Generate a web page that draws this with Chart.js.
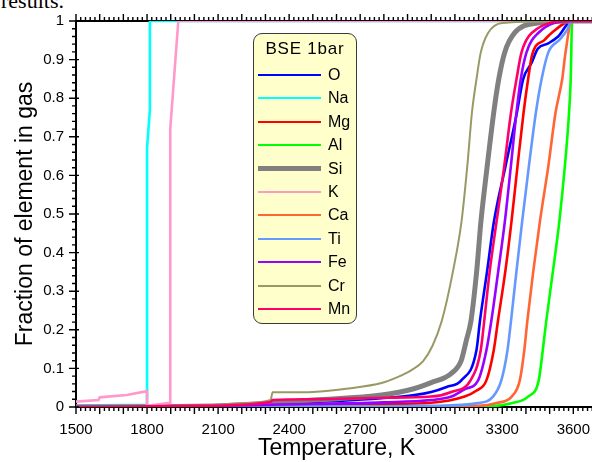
<!DOCTYPE html>
<html>
<head>
<meta charset="utf-8">
<script src="https://cdn.jsdelivr.net/npm/chart.js@4.4.1/dist/chart.umd.min.js"></script>
<style>
  html, body { margin: 0; padding: 0; background: #fff; overflow: hidden; width: 592px; height: 462px; }
  #wrap { position: relative; width: 592px; height: 462px; overflow: hidden; }
  #c { position: absolute; left: 0; top: 0; }
  #cut { position: absolute; left: 1px; top: -10px; font: 22px "Liberation Serif", "Times New Roman", serif; line-height: 22px; color: #000; }
  #legend { position: absolute; left: 253px; top: 33px; width: 102px; height: 289px; background: #ffffcc; border: 1.5px solid #3a3a3a; border-radius: 9px; font-family: "Liberation Sans", Arial, sans-serif; color: #000; }
  #legend .ttl { position: absolute; left: 0; width: 100%; top: 4px; text-align: center; font-size: 17px; letter-spacing: 0.8px; line-height: 22px; }
  #legend .row { position: absolute; left: 0; width: 100%; height: 20px; }
  #legend .sw { position: absolute; left: 4px; width: 63px; top: 50%; }
  #legend .lb { position: absolute; left: 74px; top: 0; font-size: 16px; line-height: 20px; }
</style>
</head>
<body>
<div id="wrap">
  <div id="cut">results.</div>
  <canvas id="c" width="604" height="462"></canvas>
  <div id="legend"></div>
</div>
<script>
// ---------------- data ----------------
const LEGEND_TITLE = "BSE 1bar";
const X_TITLE = "Temperature, K";
const Y_TITLE = "Fraction of element in gas";
const X_TICKS = [1500, 1800, 2100, 2400, 2700, 3000, 3300, 3600];
const Y_TICKS = [0, 0.1, 0.2, 0.3, 0.4, 0.5, 0.6, 0.7, 0.8, 0.9, 1];
const ELEMENTS = ["O", "Na", "Mg", "Al", "Si", "K", "Ca", "Ti", "Fe", "Cr", "Mn"];

const T_O  = [1500, 2000, 2330, 2790, 2930, 3000, 3065, 3127, 3191, 3206, 3236, 3265, 3313, 3362, 3388, 3424, 3450, 3494, 3536, 3593, 3700];
const F_O  = [0, 0.001, 0.008, 0.023, 0.031, 0.039, 0.052, 0.069, 0.147, 0.224, 0.352, 0.481, 0.622, 0.763, 0.849, 0.892, 0.928, 0.942, 0.960, 1, 1];

const T_Na = [1500, 1800, 1800, 1812, 1812, 3700];
const F_Na = [0.004, 0.006, 0.67, 0.77, 1, 1];

const T_Mg = [1500, 2000, 2330, 2800, 3000, 3141, 3190, 3233, 3264, 3282, 3313, 3339, 3364, 3390, 3409, 3426, 3480, 3508, 3593, 3700];
const F_Mg = [0, 0.001, 0.004, 0.008, 0.011, 0.027, 0.042, 0.069, 0.147, 0.224, 0.352, 0.481, 0.622, 0.763, 0.849, 0.912, 0.952, 0.969, 1, 1];

const T_Al = [1500, 3000, 3250, 3339, 3409, 3454, 3471, 3486, 3514, 3541, 3564, 3582, 3589, 3595, 3700];
const F_Al = [0, 0, 0.002, 0.01, 0.027, 0.069, 0.147, 0.224, 0.352, 0.481, 0.622, 0.763, 0.849, 1, 1];

const T_Si = [1500, 2000, 2330, 2500, 2790, 2930, 3000, 3085, 3127, 3148, 3168, 3192, 3210, 3236, 3264, 3285, 3310, 3352, 3450, 3593, 3700];
const F_Si = [0, 0.002, 0.01, 0.018, 0.031, 0.048, 0.063, 0.087, 0.121, 0.172, 0.224, 0.352, 0.481, 0.622, 0.763, 0.849, 0.918, 0.969, 0.995, 1, 1];

const T_K  = [1500, 1595, 1600, 1714, 1800, 1800, 1898, 1898, 1932, 3700];
const F_K  = [0.014, 0.018, 0.025, 0.031, 0.041, 0.003, 0.011, 0.72, 1, 1];

const T_Ca = [1500, 3000, 3200, 3272, 3340, 3374, 3393, 3406, 3431, 3459, 3494, 3525, 3553, 3567, 3593, 3700];
const F_Ca = [0, 0, 0.003, 0.01, 0.027, 0.069, 0.147, 0.224, 0.352, 0.481, 0.622, 0.763, 0.849, 0.918, 1, 1];

const T_Ti = [1500, 2330, 2800, 3000, 3198, 3261, 3296, 3322, 3337, 3360, 3384, 3412, 3442, 3466, 3494, 3543, 3572, 3593, 3700];
const F_Ti = [0, 0.001, 0.002, 0.003, 0.01, 0.027, 0.069, 0.147, 0.224, 0.352, 0.481, 0.622, 0.763, 0.849, 0.918, 0.952, 0.975, 1, 1];

const T_Fe = [1500, 2000, 2330, 2800, 3000, 3085, 3141, 3198, 3233, 3254, 3283, 3311, 3336, 3360, 3378, 3402, 3452, 3593, 3700];
const F_Fe = [0, 0.002, 0.006, 0.012, 0.018, 0.027, 0.046, 0.069, 0.147, 0.224, 0.352, 0.481, 0.622, 0.763, 0.849, 0.918, 0.969, 1, 1];

const T_Cr = [1500, 1800, 2000, 2100, 2200, 2322, 2330, 2400, 2500, 2650, 2790, 2860, 2915, 2965, 3005, 3045, 3092, 3128, 3152, 3172, 3191, 3209, 3240, 3300, 3600, 3700];
const F_Cr = [0, 0.002, 0.004, 0.006, 0.01, 0.018, 0.038, 0.038, 0.039, 0.048, 0.062, 0.078, 0.095, 0.118, 0.158, 0.224, 0.352, 0.481, 0.622, 0.763, 0.849, 0.918, 0.969, 0.995, 1, 1];

const T_Mn = [1500, 2000, 2322, 2330, 2500, 2800, 3000, 3085, 3166, 3209, 3224, 3247, 3276, 3308, 3337, 3360, 3381, 3424, 3593, 3700];
const F_Mn = [0, 0.003, 0.013, 0.018, 0.02, 0.024, 0.027, 0.039, 0.069, 0.147, 0.224, 0.352, 0.481, 0.622, 0.763, 0.849, 0.918, 0.969, 1, 1];

const SERIES_T = [T_O, T_Na, T_Mg, T_Al, T_Si, T_K, T_Ca, T_Ti, T_Fe, T_Cr, T_Mn];
const SERIES_F = [F_O, F_Na, F_Mg, F_Al, F_Si, F_K, F_Ca, F_Ti, F_Fe, F_Cr, F_Mn];

// ---------------- styles ----------------
const COLORS = ["#0000ff", "#00ffff", "#ff0000", "#00ff00", "#808080", "#ff99cc", "#ff6633", "#6699ff", "#9900ff", "#999966", "#ff0066"];
const WIDTHS = [2.6, 2.6, 2.6, 2.6, 5, 2.6, 2.6, 2.6, 2.6, 2, 2.6];
const STEPPED = ["Na", "K"];
const FONT = "'Liberation Sans', Arial, sans-serif";

const datasets = ELEMENTS.map((name, i) => ({
  label: name,
  data: SERIES_T[i].map((t, j) => ({ x: t, y: SERIES_F[i][j] })),
  borderColor: COLORS[i],
  backgroundColor: COLORS[i],
  borderWidth: WIDTHS[i],
  pointRadius: 0,
  fill: false,
  tension: STEPPED.includes(name) ? 0 : 0.4,
  cubicInterpolationMode: STEPPED.includes(name) ? 'default' : 'monotone',
  order: ELEMENTS.length - i
}));

const frameAndTicks = {
  id: 'frameAndTicks',
  beforeDatasetsDraw(chart) {
    const { ctx, chartArea: a } = chart;
    ctx.save();
    ctx.strokeStyle = '#000';
    ctx.lineWidth = 2;
    ctx.beginPath();
    ctx.moveTo(a.left, a.top); ctx.lineTo(a.right, a.top);
    ctx.moveTo(a.left, a.bottom); ctx.lineTo(a.right, a.bottom);
    ctx.moveTo(a.left, a.top - 1); ctx.lineTo(a.left, a.bottom + 1);
    ctx.stroke();
    ctx.restore();
  },
  afterDraw(chart) {
    const { ctx, chartArea: a, scales: { x, y } } = chart;
    ctx.save();
    ctx.strokeStyle = '#000';
    ctx.lineWidth = 1.4;
    ctx.beginPath();
    for (let v = x.min; v <= x.max + 1e-6; v += 20) {
      const px = x.getPixelForValue(v);
      const len = (Math.round(v) % 100 === 0) ? 7 : 4;
      ctx.moveTo(px, a.bottom); ctx.lineTo(px, a.bottom + len);
      ctx.moveTo(px, a.top); ctx.lineTo(px, a.top - len);
    }
    for (let k = 0; k <= 50; k++) {
      const v = k / 50;
      const py = y.getPixelForValue(v);
      const major = k % 5 === 0;
      ctx.moveTo(a.left - (major ? 7 : 4), py); ctx.lineTo(a.left + (major ? 3 : 0), py);
    }
    ctx.stroke();
    ctx.restore();
  }
};

const chart = new Chart(document.getElementById('c'), {
  type: 'line',
  data: { datasets },
  options: {
    responsive: false,
    animation: false,
    devicePixelRatio: 1,
    layout: { padding: { top: 18, right: 0, left: 0, bottom: 0 } },
    plugins: { legend: { display: false }, tooltip: { enabled: false } },
    scales: {
      x: {
        type: 'linear', min: 1500, max: 3700,
        afterBuildTicks: s => { s.ticks = X_TICKS.map(v => ({ value: v })); },
        afterFit: s => { s.height = 55; },
        grid: { display: false, drawTicks: false },
        border: { display: false },
        ticks: { color: '#000', font: { family: FONT, size: 15 }, padding: 14, maxRotation: 0, autoSkip: false, callback: v => String(v) },
        title: { display: true, text: X_TITLE, color: '#000', font: { family: FONT, size: 23 }, padding: { top: 0, bottom: 0 } }
      },
      y: {
        type: 'linear', min: 0, max: 1,
        afterBuildTicks: s => { s.ticks = Y_TICKS.map(v => ({ value: v })); },
        afterFit: s => { s.width = 76; },
        grid: { display: false, drawTicks: false },
        border: { display: false },
        ticks: { color: '#000', font: { family: FONT, size: 15 }, padding: 12, autoSkip: false, callback: v => String(Math.round(v * 10) / 10) },
        title: { display: true, text: Y_TITLE, color: '#000', font: { family: FONT, size: 23 }, padding: { top: 12, bottom: 0 } }
      }
    }
  },
  plugins: [frameAndTicks]
});

// ---------------- HTML legend built from the chart's datasets ----------------
const lg = document.getElementById('legend');
const ttl = document.createElement('div');
ttl.className = 'ttl'; ttl.textContent = LEGEND_TITLE;
lg.appendChild(ttl);
chart.data.datasets.forEach((ds, i) => {
  const row = document.createElement('div');
  row.className = 'row';
  row.style.top = (31 + i * 23.4) + 'px';
  const sw = document.createElement('div');
  sw.className = 'sw';
  sw.style.borderTop = ds.borderWidth + 'px solid ' + ds.borderColor;
  sw.style.marginTop = (-ds.borderWidth / 2) + 'px';
  const lb = document.createElement('div');
  lb.className = 'lb'; lb.textContent = ds.label;
  row.appendChild(sw); row.appendChild(lb);
  lg.appendChild(row);
});
</script>
</body>
</html>
